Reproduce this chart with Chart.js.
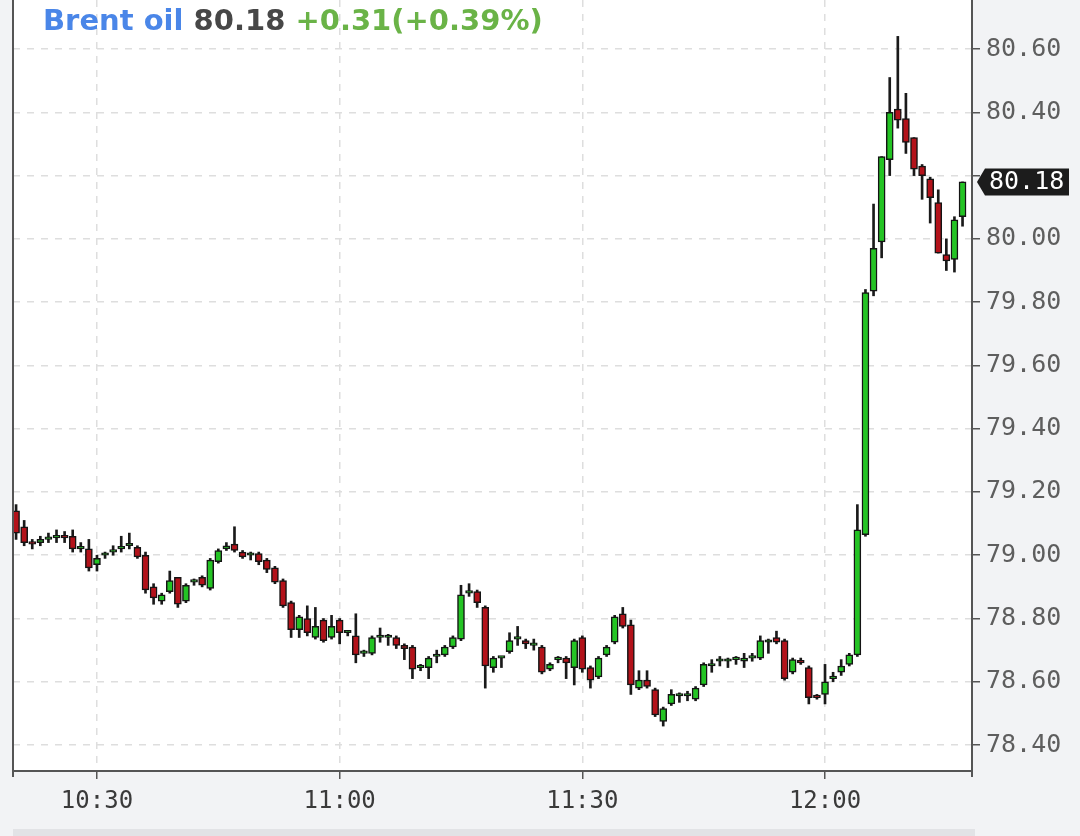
<!DOCTYPE html>
<html>
<head>
<meta charset="utf-8">
<script src="https://cdn.jsdelivr.net/npm/chart.js@4.4.1/dist/chart.umd.min.js"></script>
<style>
    html, body { margin: 0; padding: 0; background: #f2f3f5; }
    #wrap { position: relative; width: 1080px; height: 836px; }
    #title {
        position: absolute; left: 43px; top: 6px;
        font: bold 29px "DejaVu Sans", sans-serif; line-height: 29px;
        white-space: nowrap;
    }
    #title .name { color: #4a86e8; }
    #title .last { color: #474747; }
    #title .chg { color: #6ab347; }
</style>
</head>
<body>
<div id="wrap">
    <canvas id="brent-chart" width="1080" height="836"></canvas>
    <div id="title"><span class="name">Brent oil</span> <span class="last">80.18</span> <span class="chg">+0.31(+0.39%)</span></div>
</div>
<script>
// 1-minute candles, 10:20 .. 12:17
const startMinute = 20; // minutes after 10:00
const opens = [
    79.14, 79.09, 79.04, 79.04, 79.05, 79.055, 79.06, 79.06, 79.02, 79.02,
    78.97, 79.00, 79.01, 79.02, 79.03, 79.025, 79.00, 78.90, 78.855, 78.885,
    78.93, 78.855, 78.915, 78.93, 78.895, 78.98, 79.02, 79.035, 79.01, 79.00,
    79.005, 78.985, 78.96, 78.92, 78.85, 78.765, 78.80, 78.74, 78.795, 78.74,
    78.795, 78.755, 78.745, 78.69, 78.69, 78.74, 78.74, 78.74, 78.715, 78.71,
    78.645, 78.645, 78.68, 78.685, 78.71, 78.735, 78.88, 78.885, 78.835, 78.645,
    78.675, 78.695, 78.735, 78.73, 78.715, 78.71, 78.64, 78.67, 78.675, 78.645,
    78.74, 78.645, 78.615, 78.685, 78.725, 78.815, 78.78, 78.58, 78.605, 78.575,
    78.475, 78.53, 78.555, 78.555, 78.545, 78.59, 78.65, 78.665, 78.665, 78.67,
    78.665, 78.675, 78.675, 78.725, 78.74, 78.73, 78.63, 78.665, 78.645, 78.555,
    78.56, 78.61, 78.63, 78.655, 78.685, 79.065, 79.835, 79.99, 80.25, 80.41,
    80.38, 80.32, 80.23, 80.19, 80.115, 79.95, 79.935, 80.07
];
const highs = [
    79.16, 79.11, 79.05, 79.06, 79.07, 79.08, 79.075, 79.08, 79.04, 79.05,
    79.00, 79.01, 79.03, 79.06, 79.07, 79.03, 79.01, 78.91, 78.88, 78.95,
    78.93, 78.91, 78.925, 78.935, 78.99, 79.02, 79.04, 79.09, 79.015, 79.01,
    79.01, 78.99, 78.965, 78.925, 78.855, 78.81, 78.84, 78.835, 78.80, 78.81,
    78.80, 78.76, 78.815, 78.70, 78.745, 78.77, 78.75, 78.745, 78.72, 78.715,
    78.655, 78.68, 78.70, 78.715, 78.745, 78.905, 78.91, 78.89, 78.84, 78.68,
    78.68, 78.755, 78.775, 78.735, 78.735, 78.715, 78.66, 78.68, 78.68, 78.735,
    78.745, 78.65, 78.68, 78.715, 78.81, 78.835, 78.795, 78.635, 78.635, 78.58,
    78.52, 78.575, 78.565, 78.57, 78.585, 78.66, 78.67, 78.68, 78.675, 78.68,
    78.69, 78.69, 78.745, 78.735, 78.76, 78.735, 78.675, 78.675, 78.65, 78.56,
    78.655, 78.63, 78.67, 78.69, 79.16, 79.84, 80.11, 80.26, 80.51, 80.64,
    80.46, 80.32, 80.235, 80.195, 80.155, 80.00, 80.07, 80.18
];
const lows = [
    79.05, 79.03, 79.02, 79.03, 79.04, 79.04, 79.04, 79.01, 79.01, 78.95,
    78.95, 78.99, 79.00, 79.01, 79.02, 78.99, 78.88, 78.845, 78.845, 78.88,
    78.835, 78.85, 78.905, 78.90, 78.89, 78.975, 79.015, 79.01, 78.99, 78.985,
    78.97, 78.945, 78.91, 78.835, 78.74, 78.74, 78.745, 78.735, 78.725, 78.735,
    78.72, 78.745, 78.66, 78.68, 78.685, 78.725, 78.715, 78.705, 78.67, 78.61,
    78.635, 78.61, 78.66, 78.68, 78.705, 78.73, 78.87, 78.835, 78.58, 78.63,
    78.645, 78.69, 78.715, 78.705, 78.70, 78.625, 78.635, 78.66, 78.61, 78.59,
    78.63, 78.58, 78.61, 78.68, 78.72, 78.77, 78.56, 78.575, 78.58, 78.49,
    78.46, 78.525, 78.535, 78.54, 78.54, 78.585, 78.63, 78.65, 78.645, 78.655,
    78.645, 78.665, 78.67, 78.69, 78.72, 78.605, 78.625, 78.655, 78.53, 78.545,
    78.53, 78.60, 78.62, 78.65, 78.68, 79.06, 79.82, 79.94, 80.20, 80.35,
    80.27, 80.20, 80.125, 80.05, 79.955, 79.90, 79.895, 80.04
];
const closes = [
    79.07, 79.04, 79.035, 79.05, 79.055, 79.06, 79.055, 79.02, 79.025, 78.96,
    78.99, 79.005, 79.015, 79.025, 79.03, 78.995, 78.89, 78.865, 78.875, 78.92,
    78.845, 78.905, 78.92, 78.905, 78.985, 79.015, 79.03, 79.015, 78.995, 79.00,
    78.98, 78.955, 78.915, 78.84, 78.765, 78.805, 78.755, 78.775, 78.73, 78.775,
    78.755, 78.755, 78.685, 78.69, 78.74, 78.745, 78.74, 78.715, 78.705, 78.64,
    78.645, 78.675, 78.685, 78.71, 78.74, 78.875, 78.88, 78.85, 78.65, 78.675,
    78.675, 78.73, 78.735, 78.72, 78.715, 78.63, 78.655, 78.67, 78.66, 78.73,
    78.64, 78.605, 78.675, 78.71, 78.805, 78.775, 78.59, 78.605, 78.585, 78.495,
    78.515, 78.56, 78.555, 78.555, 78.58, 78.655, 78.655, 78.665, 78.665, 78.67,
    78.675, 78.68, 78.73, 78.725, 78.725, 78.61, 78.67, 78.66, 78.55, 78.55,
    78.60, 78.615, 78.65, 78.685, 79.08, 79.83, 79.97, 80.26, 80.40, 80.375,
    80.305, 80.22, 80.20, 80.13, 79.955, 79.93, 80.06, 80.18
];

const xTickMinutes = [30, 60, 90, 120];
const xTickLabels = ['10:30', '11:00', '11:30', '12:00'];
const yTickValues = [78.40, 78.60, 78.80, 79.00, 79.20, 79.40, 79.60, 79.80, 80.00, 80.20, 80.40, 80.60];
const lastPrice = 80.18;

const UP = '#24c424';
const DOWN = '#b3121a';

const minutes = opens.map((_, i) => startMinute + i);
const bodies = minutes.map((m, i) => ({ x: m, y: [opens[i], closes[i]] }));
const wicks = minutes.map((m, i) => ({ x: m, y: [lows[i], highs[i]] }));
const bodyColors = opens.map((o, i) => closes[i] >= o ? UP : DOWN);

const frameAndTag = {
    id: 'frameAndTag',
    beforeDraw(chart) {
        const { ctx, chartArea: a } = chart;
        ctx.save();
        ctx.fillStyle = '#f2f3f5';
        ctx.fillRect(0, 0, chart.width, chart.height);
        ctx.fillStyle = '#ffffff';
        ctx.fillRect(a.left, a.top, a.right - a.left, a.bottom - a.top);
        // scroller strip at the bottom
        ctx.fillStyle = '#e2e3e6';
        ctx.fillRect(a.left, 829, a.right - a.left + 3, 7);
        ctx.restore();
    },
    afterDraw(chart) {
        const { ctx, chartArea: a } = chart;
        ctx.save();
        ctx.strokeStyle = '#555';
        ctx.lineWidth = 2;
        ctx.beginPath();
        ctx.moveTo(a.left, 0);
        ctx.lineTo(a.left, a.bottom + 6);
        ctx.moveTo(a.right, a.bottom);
        ctx.lineTo(a.right, a.bottom + 6);
        ctx.stroke();

        // last price tag
        const y = chart.scales.y.getPixelForValue(lastPrice);
        const x0 = a.right + 5, bx = a.right + 13, bw = 84, bh = 27;
        ctx.fillStyle = '#1c1c1c';
        ctx.beginPath();
        ctx.moveTo(x0, y);
        ctx.lineTo(bx, y - bh / 2);
        ctx.lineTo(bx + bw, y - bh / 2);
        ctx.lineTo(bx + bw, y + bh / 2);
        ctx.lineTo(bx, y + bh / 2);
        ctx.closePath();
        ctx.fill();
        ctx.fillStyle = '#ffffff';
        ctx.font = '25px "DejaVu Sans Mono", monospace';
        ctx.textBaseline = 'middle';
        ctx.fillText(lastPrice.toFixed(2), bx + 4, y + 1);
        ctx.restore();
    }
};

new Chart(document.getElementById('brent-chart'), {
    type: 'bar',
    data: {
        datasets: [
            {
                label: 'Body',
                data: bodies,
                backgroundColor: bodyColors,
                borderColor: '#141414',
                borderWidth: 1.5,
                borderSkipped: false,
                barThickness: 7,
                minBarLength: 2.5,
                grouped: false,
                order: 0
            },
            {
                label: 'Wick',
                data: wicks,
                backgroundColor: '#1a1a1a',
                borderWidth: 0,
                barThickness: 2,
                grouped: false,
                order: 1
            }
        ]
    },
    options: {
        responsive: false,
        animation: false,
        events: [],
        layout: { padding: { left: 13, top: 0, right: 0, bottom: 0 } },
        plugins: {
            legend: { display: false },
            tooltip: { enabled: false }
        },
        scales: {
            x: {
                type: 'linear',
                min: 19.62,
                max: 138.17,
                offset: false,
                afterBuildTicks: (axis) => { axis.ticks = xTickMinutes.map(v => ({ value: v })); },
                afterFit: (scale) => { scale.height = 65; scale.paddingLeft = 0; scale.paddingRight = 0; },
                grid: {
                    color: '#dedede',
                    lineWidth: 1.5,
                    tickColor: '#555',
                    tickLength: 8,
                    tickWidth: 1.5,
                    offset: false
                },
                border: { color: '#555', width: 2, dash: [7, 7] },
                ticks: {
                    autoSkip: false,
                    maxRotation: 0,
                    padding: 8,
                    color: '#3a3a3a',
                    font: { family: '"DejaVu Sans Mono", monospace', size: 24 },
                    callback: (v) => xTickLabels[xTickMinutes.indexOf(v)]
                }
            },
            y: {
                position: 'right',
                min: 78.318,
                max: 80.755,
                afterBuildTicks: (axis) => { axis.ticks = yTickValues.map(v => ({ value: v })); },
                afterFit: (scale) => { scale.width = 108; scale.paddingTop = 0; scale.paddingBottom = 0; },
                grid: {
                    color: '#dedede',
                    lineWidth: 1.5,
                    tickColor: '#555',
                    tickLength: 8,
                    tickWidth: 1.5
                },
                border: { color: '#555', width: 2, dash: [7, 7] },
                ticks: {
                    padding: 6,
                    color: '#5e5e5e',
                    font: { family: '"DejaVu Sans Mono", monospace', size: 25 },
                    callback: (v) => Math.abs(v - 80.2) < 0.001 ? '' : v.toFixed(2)
                }
            }
        }
    },
    plugins: [frameAndTag]
});
</script>
</body>
</html>
